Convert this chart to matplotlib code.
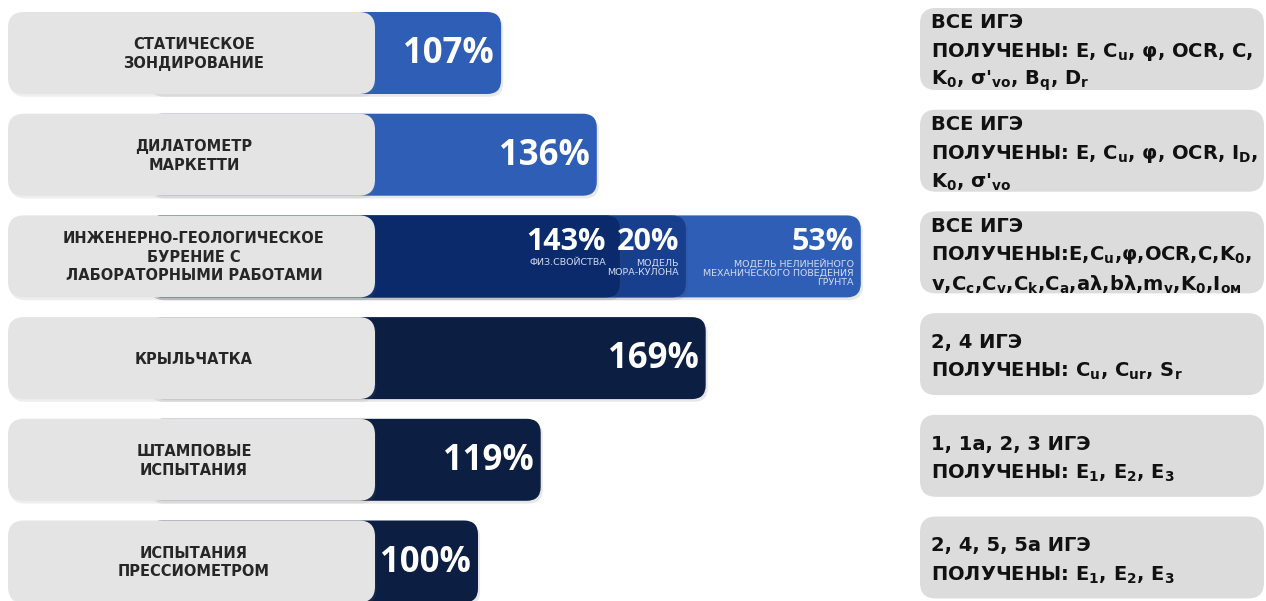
import matplotlib
matplotlib.use("Agg")
import matplotlib.pyplot as plt
import matplotlib.patheffects as pe
from matplotlib.patches import FancyBboxPatch

# ---- data ---------------------------------------------------------------
methods = [
    "СТАТИЧЕСКОЕ\nЗОНДИРОВАНИЕ",
    "ДИЛАТОМЕТР\nМАРКЕТТИ",
    "ИНЖЕНЕРНО-ГЕОЛОГИЧЕСКОЕ\nБУРЕНИЕ С\nЛАБОРАТОРНЫМИ РАБОТАМИ",
    "КРЫЛЬЧАТКА",
    "ШТАМПОВЫЕ\nИСПЫТАНИЯ",
    "ИСПЫТАНИЯ\nПРЕССИОМЕТРОМ",
]
single_values = [107, 136, None, 169, 119, 100]   # % per method
drilling_row = 2
drilling_parts = [143, 20, 53]                     # % per drilling sub-result
drilling_captions = [
    "ФИЗ.СВОЙСТВА",
    "МОДЕЛЬ\nМОРА-КУЛОНА",
    "МОДЕЛЬ НЕЛИНЕЙНОГО\nМЕХАНИЧЕСКОГО ПОВЕДЕНИЯ\nГРУНТА",
]
scope_labels = ["ВСЕ ИГЭ", "ВСЕ ИГЭ", "ВСЕ ИГЭ",
                "2, 4 ИГЭ", "1, 1а, 2, 3 ИГЭ", "2, 4, 5, 5а ИГЭ"]
param_labels = [
    ["ПОЛУЧЕНЫ: E, C$_u$, φ, OCR, C,", "K$_0$, σ'$_{vo}$, B$_q$, D$_r$"],
    ["ПОЛУЧЕНЫ: E, C$_u$, φ, OCR, I$_D$,", "K$_0$, σ'$_{vo}$"],
    ["ПОЛУЧЕНЫ:E,C$_u$,φ,OCR,C,K$_0$,",
     "v,C$_c$,C$_v$,C$_k$,C$_a$,aλ,bλ,m$_v$,K$_0$,I$_{ом}$"],
    ["ПОЛУЧЕНЫ: C$_u$, C$_{ur}$, S$_r$"],
    ["ПОЛУЧЕНЫ: E$_1$, E$_2$, E$_3$"],
    ["ПОЛУЧЕНЫ: E$_1$, E$_2$, E$_3$"],
]

# ---- style ----------------------------------------------------------------
MID_BLUE = "#2e5eb6"
NAVY = "#0c1e42"
single_colors = [MID_BLUE, MID_BLUE, None, NAVY, NAVY, NAVY]
drilling_colors = ["#0a2a6c", "#173f8e", "#2e5eb6"]
LABEL_BOX = "#e4e4e4"
INFO_BOX = "#dcdcdc"
WIDE = ["DejaVu Sans"]
NUM = ["Open Sans", "DejaVu Sans"]

plt.rcParams["font.family"] = ["DejaVu Sans"]
plt.rcParams["mathtext.fontset"] = "custom"
plt.rcParams["mathtext.rm"] = "DejaVu Sans:bold"
plt.rcParams["mathtext.it"] = "DejaVu Sans:bold"
plt.rcParams["mathtext.bf"] = "DejaVu Sans:bold"

W, H = 1266, 601
fig = plt.figure(figsize=(W / 100, H / 100), dpi=100)
fig.patch.set_facecolor("white")

# layout in pixels
row_top0, row_step, row_h = 12, 101.7, 82
zero_px, px_per_pct = 148, 3.3

panel_shadow = [pe.SimplePatchShadow(offset=(1.0, -2.0), shadow_rgbFace="#777777",
                                     alpha=0.12), pe.Normal()]
bar_shadow = [pe.SimplePatchShadow(offset=(1.5, -2.0), shadow_rgbFace="#444444",
                                   alpha=0.12), pe.Normal()]

# ---- bars: x in percent, y in row units ---------------------------------
ax = fig.add_axes([0, 0, 1, 1])
ax.set_xlim(-zero_px / px_per_pct, (W - zero_px) / px_per_pct)
c0 = (row_top0 + row_h / 2) / row_step
ax.set_ylim(H / row_step - c0, -c0)
ax.axis("off")
half = row_h / 2 / row_step
aspect = px_per_pct / row_step


def bar(x0, x1, row, color, z, radius_px=14):
    ax.add_patch(FancyBboxPatch(
        (x0, row - half), x1 - x0, 2 * half,
        boxstyle=f"round,pad=0,rounding_size={radius_px / px_per_pct}",
        mutation_aspect=aspect, fc=color, ec="none", zorder=z,
        path_effects=bar_shadow))


pad = 7 / px_per_pct
for i, v in enumerate(single_values):
    if v is None:
        continue
    bar(0, v, i, single_colors[i], 2)
    ax.text(v - pad, i + 0.01, f"{v}%", ha="right", va="center",
            fontsize=25, fontweight="bold", color="white", zorder=5,
            family=NUM)

# drilling: cumulative overlapping segments, the first one on top
ends = []
acc = 0
for p in drilling_parts:
    acc += p
    ends.append(acc)
for k in range(len(drilling_parts) - 1, -1, -1):
    bar(0, ends[k], drilling_row, drilling_colors[k], 2 + (3 - k))
for k, (p, cap) in enumerate(zip(drilling_parts, drilling_captions)):
    xr = ends[k] - (14 if k == 0 else 7) / px_per_pct
    ax.text(xr, drilling_row - 0.145, f"{p}%", ha="right",
            va="center", fontsize=22, fontweight="bold", color="white",
            zorder=8, family=NUM)
    ax.text(xr, drilling_row + 0.02, cap, ha="right", va="top",
            fontsize=6.8, color="#d4dbef", linespacing=1.05, zorder=8,
            family=WIDE)

# ---- label panels and info panels in pixel coordinates ----------------------
ov = fig.add_axes([0, 0, 1, 1])
ov.set_xlim(0, W)
ov.set_ylim(H, 0)
ov.axis("off")
ov.patch.set_alpha(0)

for i, name in enumerate(methods):
    top = row_top0 + i * row_step
    ov.add_patch(FancyBboxPatch(
        (8, top), 367, row_h, boxstyle="round,pad=0,rounding_size=16",
        fc=LABEL_BOX, ec="none", zorder=3, path_effects=panel_shadow))
    ov.text(194, top + row_h / 2 + 1, name, ha="center", va="center",
            fontsize=10.5, fontweight="bold", color="#262626",
            linespacing=1.3, zorder=4, family=WIDE)

info_top0 = 8
for i, (scope, params) in enumerate(zip(scope_labels, param_labels)):
    top = info_top0 + i * row_step
    ov.add_patch(FancyBboxPatch(
        (920, top), 344, row_h, boxstyle="round,pad=0,rounding_size=16",
        fc=INFO_BOX, ec="none", zorder=3))
    lines = [scope] + params
    n = len(lines)
    step = 29
    mid = top + row_h / 2 + 3
    for j, line in enumerate(lines):
        y = mid + (j - (n - 1) / 2) * step
        ov.text(931, y, line, ha="left", va="center", fontsize=14,
                fontweight="bold", color="#111111", zorder=4, family=WIDE)

fig.savefig("out.png", dpi=100, facecolor="white")
